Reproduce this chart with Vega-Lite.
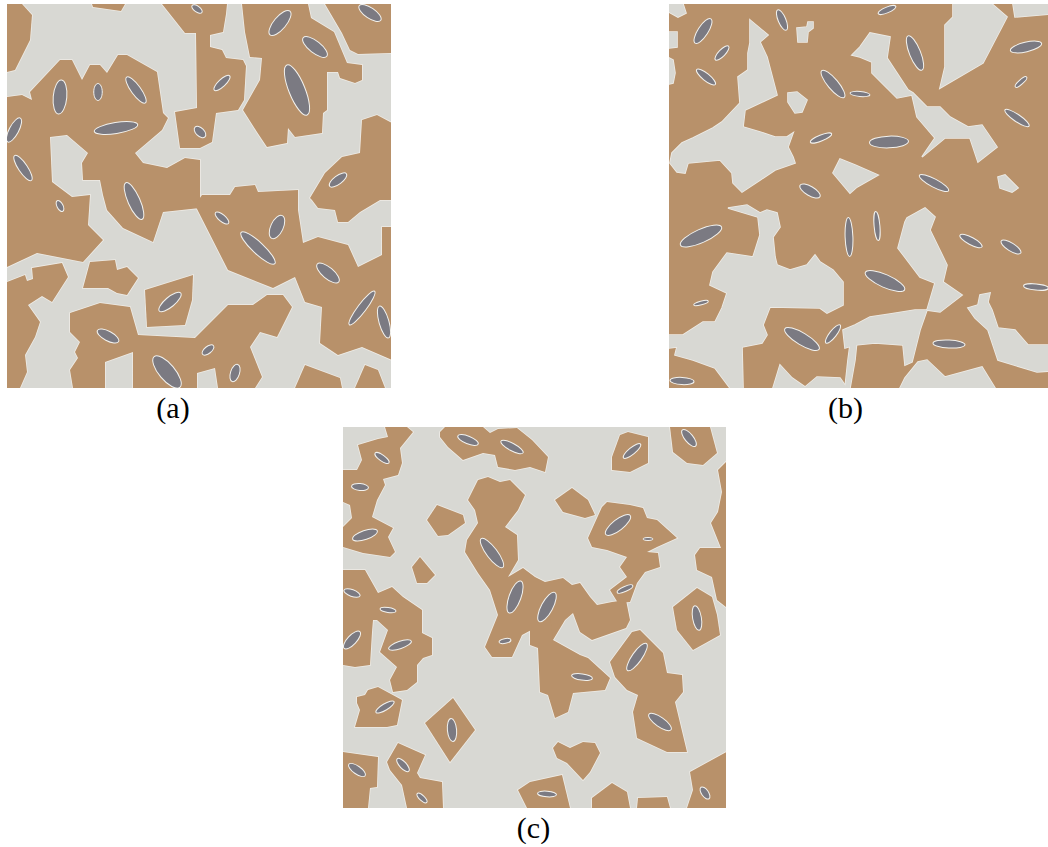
{
"$schema":"https://vega.github.io/schema/vega-lite/v6.json",
"background":"white",
"padding":{"left":7,"top":4,"right":0,"bottom":0},
"config":{"view":{"stroke":null,"fill":"#d8d8d3"},"title":{"font":"Times New Roman, Liberation Serif, serif","fontSize":30,"fontWeight":"normal","color":"#000000"}},
"datasets":{
"polys":[
{"p":"a","id":"a1","x":[7,22,32,30,15,7],"y":[4,4,15,40,70,72]},
{"p":"a","id":"a2","x":[92,125,121,93],"y":[4,4,11,7]},
{"p":"a","id":"a3","x":[162,227,226,223,210,210,222,226,243,246,244,238,216,212,200,180,175,197,196,185],"y":[4,4,14,32,35,47,50,58,60,66,100,110,113,142,148,148,112,108,33,33]},
{"p":"a","id":"a4","x":[242,308,311,334,347,362,362,355,340,338,327,327,323,322,295,288,287,267,257,243,260,262,250,245],"y":[4,4,18,32,63,65,80,83,78,72,72,110,113,133,137,128,143,147,132,110,80,58,57,32]},
{"p":"a","id":"a5","x":[325,392,392,358,350,342],"y":[4,4,53,54,50,33]},
{"p":"a","id":"a6","x":[7,22,32,30,60,72,82,90,100,107,118,127,157,163,168,162,135,143,167,185,200,200,163,153,123,107,103,100,83,82,88,67,50,52,72,90,88,103,83,37,7],"y":[97,95,100,92,60,60,80,65,65,73,55,55,72,113,118,130,153,163,168,158,160,208,212,242,228,210,195,180,180,163,153,135,137,182,197,195,225,240,262,253,267]},
{"p":"a","id":"a7","x":[310,325,342,360,362,377,392,392,380,360,348,338,335,318,312],"y":[198,173,157,153,120,115,123,200,200,212,222,222,210,208,200]},
{"p":"a","id":"a8","x":[7,25,27,33,32,62,68,52,42,28,40,35,25,27,20,7],"y":[282,275,281,279,268,263,277,302,296,305,322,337,355,372,388,388]},
{"p":"a","id":"a10","x":[90,115,117,127,138,127,117,108,83],"y":[262,260,270,267,278,295,293,288,288]},
{"p":"a","id":"a11","x":[145,193,192,185,147],"y":[290,275,300,325,327]},
{"p":"a","id":"a12","x":[70,100,130,138,195,228,253,267,283,292,277,260,250,262,255,218,215,197,197,133,133,105,105,73,70,78,75,80,70],"y":[313,303,307,335,338,305,305,295,295,307,337,332,347,377,388,388,368,373,388,388,352,362,388,388,370,358,352,342,332]},
{"p":"a","id":"a13","x":[202,230,235,255,258,298,298,303,318,348,358,382,382,392,392,362,338,320,322,305,295,273,228,195],"y":[195,195,187,185,192,190,210,243,237,245,267,255,227,227,360,347,355,343,307,302,277,288,270,205]},
{"p":"a","id":"a14","x":[295,305,340,342],"y":[388,365,378,388]},
{"p":"a","id":"a15","x":[355,365,378,385],"y":[388,365,370,388]},
{"p":"b","id":"b1","x":[669,683,686,678,669],"y":[4,4,13,17,12]},
{"p":"b","id":"b2","x":[669,677,677,669],"y":[32,32,47,48]},
{"p":"b","id":"b3","x":[669,673,675,673,669],"y":[58,60,73,83,84]},
{"p":"b","id":"b4","x":[750,768,760,767,777,745,743,760,775,787,793,788,793,795,775,760,742,733,732,720,688,685,677,670,672,682,693,713,722,740,738,748,748,750],"y":[20,35,42,57,95,110,127,132,137,137,133,147,157,163,170,180,192,183,173,160,163,173,172,163,153,143,138,128,122,103,77,70,53,43]},
{"p":"b","id":"b5","x":[797,807,808,813,813,808,807,798],"y":[28,27,22,22,28,32,42,42]},
{"p":"b","id":"b6","x":[788,797,807,802,795,788],"y":[93,92,100,112,113,102]},
{"p":"b","id":"b7","x":[852,860,870,890,887,908,913,927,940,950,968,982,997,978,970,945,922,935,917,912,897,872,872,860],"y":[55,47,33,37,58,90,93,107,107,117,127,125,147,162,138,138,157,138,117,95,98,73,62,57]},
{"p":"b","id":"b8","x":[840,855,878,857,850,833],"y":[159,165,175,187,193,173]},
{"p":"b","id":"b9","x":[1013,1062,1062,1015],"y":[4,4,13,17]},
{"p":"b","id":"b10","x":[953,992,1007,983,940,945,945,953],"y":[4,4,17,63,88,67,25,17]},
{"p":"b","id":"b13","x":[998,1005,1018,1012,1000],"y":[177,175,188,192,188]},
{"p":"b","id":"b14","x":[728,747,760,767,777,780,773,775,777,790,807,815,820,833,843,843,827,820,770,763,767,762,742,743,730,715,693,675,677,669,669,683,703,715,722,727,710,713,727,753,760,758],"y":[208,205,213,210,213,227,237,257,265,270,265,255,262,270,282,305,313,308,307,325,335,343,347,388,388,368,360,355,347,348,335,335,322,322,308,293,285,272,253,257,235,217]},
{"p":"b","id":"b15","x":[773,780,792,805,817,840,847],"y":[388,365,378,387,377,378,388]},
{"p":"b","id":"b20","x":[852,858,855,850,845,848],"y":[330,330,360,388,388,360]},
{"p":"b","id":"b16","x":[907,925,935,930,947,943,962,940,927,935,920,898,905],"y":[218,208,217,230,265,282,295,312,310,283,277,248,222]},
{"p":"b","id":"b17","x":[843,855,870,890,915,927,920,912,905,903,875,855,845],"y":[330,325,317,314,310,310,330,362,365,345,343,345,348]},
{"p":"b","id":"b18","x":[900,905,918,927,945,982,995],"y":[388,378,362,360,377,367,388]},
{"p":"b","id":"b19","x":[968,978,980,990,988,992,998,1015,1028,1062,1062,1037,998,988,975],"y":[308,305,295,293,302,310,328,330,345,345,370,372,360,330,318]},
{"p":"c","id":"c1","x":[385,407,413,400,402,398,383,385,377,372,393,388,395,390,363,343,343,352,350,343,343,357,362,358,378,388],"y":[427,427,432,448,463,475,479,485,500,517,528,537,552,557,553,547,527,518,505,502,470,470,460,445,439,437]},
{"p":"c","id":"c2","x":[440,445,483,490,498,517,532,548,545,530,515,498,495,483,463,448,440],"y":[432,427,427,433,429,428,440,457,472,467,470,467,455,453,460,447,437]},
{"p":"c","id":"c3","x":[427,437,463,465,448,438],"y":[520,505,515,523,535,536]},
{"p":"c","id":"c4","x":[412,420,435,427,417],"y":[567,557,575,583,583]},
{"p":"c","id":"c5","x":[468,478,488,500,510,525,518,505,517,518,508,523,535,545,563,572,580,590,597,612,626,630,626,592,580,573,565,553,540,535,522,512,492,485,498,490,478,465,467,478,475],"y":[500,480,477,482,480,495,510,527,535,560,577,568,577,582,578,585,583,597,605,602,600,620,628,640,632,613,620,640,630,628,635,657,657,647,615,590,573,552,540,523,510]},
{"p":"c","id":"c11","x":[530,550,553,580,588,610,605,573,568,555,548,540,538,530],"y":[615,615,640,655,658,678,690,693,712,718,695,692,648,645]},
{"p":"c","id":"c6","x":[612,620,628,648,648,630,612],"y":[457,435,432,437,463,472,470]},
{"p":"c","id":"c7","x":[670,710,717,703,687,673],"y":[427,427,453,465,463,452]},
{"p":"c","id":"c8","x":[730,718,722,718,711,721,700,695,697,712,717,730],"y":[458,470,492,512,523,548,548,555,570,577,600,610]},
{"p":"c","id":"c9","x":[673,697,712,717,720,693,677],"y":[607,588,597,615,635,650,630]},
{"p":"c","id":"c15","x":[588,602,607,630,643,647,657,677,657,647,658,660,645,637,630,618,610,627,620,627,607,592],"y":[538,507,502,505,508,518,520,538,547,552,553,567,572,583,602,603,590,577,567,557,550,547]},
{"p":"c","id":"c12","x":[610,632,640,663,667,682,683,675,687,667,637,633,638,627,615],"y":[662,632,630,653,673,675,692,702,752,752,738,712,695,690,677]},
{"p":"c","id":"c16","x":[343,365,378,392,403,422,422,432,432,423,417,417,407,393,390,397,380,388,377,373,372,370,355,343],"y":[570,570,593,587,597,610,633,638,655,658,665,682,690,692,680,667,652,630,620,620,632,665,667,665]},
{"p":"c","id":"c18","x":[357,365,368,378,402,397,387,355,360,357],"y":[697,695,690,687,700,725,727,727,710,703]},
{"p":"c","id":"c19","x":[425,453,475,450],"y":[723,698,730,762]},
{"p":"c","id":"c20","x":[343,378,377,370,368,343],"y":[752,757,787,788,808,808]},
{"p":"c","id":"c21","x":[387,398,425,417,420,442,443,407,402,390],"y":[762,743,755,773,778,782,808,808,785,770]},
{"p":"c","id":"c22","x":[518,530,562,570,527],"y":[790,782,775,808,808]},
{"p":"c","id":"c23","x":[553,558,570,583,595,600,590,583,567,557],"y":[748,742,748,742,743,753,772,780,763,758]},
{"p":"c","id":"c24","x":[592,612,627,630,592],"y":[798,783,792,808,808]},
{"p":"c","id":"c25","x":[638,667,670,637],"y":[798,797,808,808]},
{"p":"c","id":"c26","x":[690,730,730,687,693],"y":[772,750,808,808,790]},
{"p":"c","id":"c28","x":[555,572,588,595,585,563],"y":[500,488,500,515,518,512]}
],
"ells":[
{"p":"a","x":60,"y":97,"len":34,"ar":"e4","ang":95},
{"p":"a","x":98,"y":92,"len":17,"ar":"e5","ang":90},
{"p":"a","x":136,"y":90,"len":32,"ar":"e3","ang":54},
{"p":"a","x":116,"y":128,"len":44,"ar":"e25","ang":-9},
{"p":"a","x":14,"y":130,"len":27,"ar":"e35","ang":-62},
{"p":"a","x":23,"y":168,"len":30,"ar":"e3","ang":56},
{"p":"a","x":134,"y":201,"len":40,"ar":"e3","ang":66},
{"p":"a","x":60,"y":206,"len":12,"ar":"e5","ang":62},
{"p":"a","x":170,"y":302,"len":28,"ar":"e35","ang":-40},
{"p":"a","x":108,"y":336,"len":24,"ar":"e4","ang":28},
{"p":"a","x":167,"y":372,"len":40,"ar":"e4","ang":50},
{"p":"a","x":197,"y":9,"len":12,"ar":"e5","ang":35},
{"p":"a","x":280,"y":23,"len":31,"ar":"e4","ang":-50},
{"p":"a","x":315,"y":47,"len":30,"ar":"e4","ang":38},
{"p":"a","x":297,"y":90,"len":54,"ar":"e3","ang":68},
{"p":"a","x":222,"y":83,"len":21,"ar":"e35","ang":-43},
{"p":"a","x":200,"y":132,"len":14,"ar":"e6","ang":45},
{"p":"a","x":370,"y":13,"len":26,"ar":"e4","ang":34},
{"p":"a","x":338,"y":180,"len":21,"ar":"e4","ang":-37},
{"p":"a","x":222,"y":218,"len":17,"ar":"e4","ang":40},
{"p":"a","x":277,"y":227,"len":25,"ar":"e5","ang":-65},
{"p":"a","x":258,"y":248,"len":46,"ar":"e25","ang":43},
{"p":"a","x":328,"y":273,"len":28,"ar":"e4","ang":40},
{"p":"a","x":362,"y":308,"len":42,"ar":"e2","ang":-53},
{"p":"a","x":384,"y":322,"len":33,"ar":"e3","ang":74},
{"p":"a","x":208,"y":350,"len":14,"ar":"e5","ang":-38},
{"p":"a","x":235,"y":373,"len":18,"ar":"e5","ang":-72},
{"p":"b","x":703,"y":31,"len":29,"ar":"e35","ang":-57},
{"p":"b","x":722,"y":53,"len":19,"ar":"e35","ang":-46},
{"p":"b","x":706,"y":77,"len":24,"ar":"e3","ang":39},
{"p":"b","x":782,"y":20,"len":22,"ar":"e35","ang":67},
{"p":"b","x":833,"y":84,"len":35,"ar":"e3","ang":50},
{"p":"b","x":821,"y":138,"len":23,"ar":"e25","ang":-22},
{"p":"b","x":810,"y":191,"len":23,"ar":"e4","ang":30},
{"p":"b","x":860,"y":94,"len":20,"ar":"e25","ang":5},
{"p":"b","x":887,"y":10,"len":19,"ar":"e3","ang":-22},
{"p":"b","x":915,"y":53,"len":37,"ar":"e3","ang":68},
{"p":"b","x":1026,"y":47,"len":32,"ar":"e3","ang":-13},
{"p":"b","x":1021,"y":82,"len":15,"ar":"e3","ang":-42},
{"p":"b","x":1017,"y":118,"len":29,"ar":"e25","ang":34},
{"p":"b","x":889,"y":142,"len":39,"ar":"e3","ang":-2},
{"p":"b","x":934,"y":183,"len":33,"ar":"e25","ang":28},
{"p":"b","x":701,"y":236,"len":45,"ar":"e3","ang":-24},
{"p":"b","x":849,"y":237,"len":39,"ar":"e2","ang":88},
{"p":"b","x":701,"y":303,"len":15,"ar":"e25","ang":-15},
{"p":"b","x":802,"y":339,"len":40,"ar":"e3","ang":31},
{"p":"b","x":833,"y":334,"len":23,"ar":"e3","ang":-52},
{"p":"b","x":682,"y":381,"len":24,"ar":"e3","ang":3},
{"p":"b","x":877,"y":226,"len":29,"ar":"e2","ang":85},
{"p":"b","x":971,"y":241,"len":25,"ar":"e3","ang":28},
{"p":"b","x":1011,"y":247,"len":23,"ar":"e35","ang":32},
{"p":"b","x":885,"y":281,"len":43,"ar":"e3","ang":24},
{"p":"b","x":1036,"y":287,"len":25,"ar":"e25","ang":5},
{"p":"b","x":949,"y":344,"len":32,"ar":"e25","ang":3},
{"p":"c","x":382,"y":458,"len":17,"ar":"e35","ang":36},
{"p":"c","x":360,"y":487,"len":17,"ar":"e4","ang":5},
{"p":"c","x":365,"y":535,"len":26,"ar":"e35","ang":-19},
{"p":"c","x":468,"y":440,"len":22,"ar":"e35","ang":22},
{"p":"c","x":512,"y":447,"len":25,"ar":"e3","ang":28},
{"p":"c","x":492,"y":553,"len":36,"ar":"e3","ang":53},
{"p":"c","x":515,"y":597,"len":34,"ar":"e35","ang":-70},
{"p":"c","x":352,"y":593,"len":17,"ar":"e4","ang":20},
{"p":"c","x":388,"y":610,"len":16,"ar":"e3","ang":7},
{"p":"c","x":632,"y":451,"len":22,"ar":"e3","ang":-39},
{"p":"c","x":689,"y":438,"len":21,"ar":"e4","ang":51},
{"p":"c","x":618,"y":525,"len":31,"ar":"e35","ang":-38},
{"p":"c","x":648,"y":539,"len":10,"ar":"e3","ang":0},
{"p":"c","x":625,"y":589,"len":17,"ar":"e3","ang":-24},
{"p":"c","x":547,"y":607,"len":33,"ar":"e35","ang":-62},
{"p":"c","x":697,"y":618,"len":25,"ar":"e35","ang":80},
{"p":"c","x":352,"y":640,"len":23,"ar":"e4","ang":-47},
{"p":"c","x":400,"y":645,"len":24,"ar":"e3","ang":-19},
{"p":"c","x":385,"y":707,"len":21,"ar":"e3","ang":-31},
{"p":"c","x":452,"y":730,"len":23,"ar":"e4","ang":85},
{"p":"c","x":357,"y":770,"len":20,"ar":"e4","ang":35},
{"p":"c","x":403,"y":765,"len":17,"ar":"e4","ang":47},
{"p":"c","x":422,"y":798,"len":13,"ar":"e4","ang":42},
{"p":"c","x":505,"y":641,"len":12,"ar":"e4","ang":-12},
{"p":"c","x":637,"y":657,"len":33,"ar":"e3","ang":-55},
{"p":"c","x":582,"y":677,"len":21,"ar":"e3","ang":8},
{"p":"c","x":660,"y":722,"len":27,"ar":"e35","ang":35},
{"p":"c","x":705,"y":793,"len":14,"ar":"e5","ang":55},
{"p":"c","x":547,"y":794,"len":19,"ar":"e3","ang":5}
]
},
"vconcat":[
{"hconcat":[
{"width":384,"height":384,
"title":{"text":"(a)","orient":"bottom","anchor":"middle","dx":-26,"offset":6,"font":"Times New Roman, Liberation Serif, serif","fontSize":30,"fontWeight":"normal","color":"#000000"},
"layer":[
{"data":{"name":"polys"},"transform":[{"filter":"datum.p === 'a'"},{"flatten":["x","y"]}],
"mark":{"type":"line","filled":true,"fill":"#b8916a","stroke":"#efece6","strokeWidth":1.6,"interpolate":"linear-closed","clip":true},
"encoding":{"x":{"field":"x","type":"quantitative","scale":{"domain":[7,391],"nice":false,"zero":false},"axis":null},
"y":{"field":"y","type":"quantitative","scale":{"domain":[4,388],"nice":false,"zero":false,"reverse":true},"axis":null},
"detail":{"field":"id","type":"nominal"},"order":{"value":null}}},
{"data":{"name":"polys"},"transform":[{"filter":"datum.p === 'a'"},{"flatten":["x","y"]}],
"mark":{"type":"line","filled":true,"fill":"#b8916a","strokeWidth":0,"interpolate":"linear-closed","clip":true},
"encoding":{"x":{"field":"x","type":"quantitative","scale":{"domain":[7,391],"nice":false,"zero":false},"axis":null},
"y":{"field":"y","type":"quantitative","scale":{"domain":[4,388],"nice":false,"zero":false,"reverse":true},"axis":null},
"detail":{"field":"id","type":"nominal"},"order":{"value":null}}},
{"data":{"name":"ells"},"transform":[{"filter":"datum.p === 'a'"}],
"mark":{"type":"point","filled":true,"fill":"#7b7a82","stroke":"#f3f2ee","strokeWidth":1,"opacity":1,"clip":true},
"encoding":{"x":{"field":"x","type":"quantitative","scale":{"domain":[7,391],"nice":false,"zero":false},"axis":null},
"y":{"field":"y","type":"quantitative","scale":{"domain":[4,388],"nice":false,"zero":false,"reverse":true},"axis":null},
"size":{"field":"len","type":"quantitative","scale":{"type":"pow","exponent":2,"domain":[0,100],"range":[0,10000]},"legend":null},
"shape":{"field":"ar","type":"nominal","legend":null,"scale":{"domain":["e2","e25","e3","e35","e4","e5","e6"],"range":[
"M-1,0C-1,-0.11,-0.552,-0.2,0,-0.2C0.552,-0.2,1,-0.11,1,0C1,0.11,0.552,0.2,0,0.2C-0.552,0.2,-1,0.11,-1,0Z",
"M-1,0C-1,-0.138,-0.552,-0.25,0,-0.25C0.552,-0.25,1,-0.138,1,0C1,0.138,0.552,0.25,0,0.25C-0.552,0.25,-1,0.138,-1,0Z",
"M-1,0C-1,-0.166,-0.552,-0.3,0,-0.3C0.552,-0.3,1,-0.166,1,0C1,0.166,0.552,0.3,0,0.3C-0.552,0.3,-1,0.166,-1,0Z",
"M-1,0C-1,-0.193,-0.552,-0.35,0,-0.35C0.552,-0.35,1,-0.193,1,0C1,0.193,0.552,0.35,0,0.35C-0.552,0.35,-1,0.193,-1,0Z",
"M-1,0C-1,-0.221,-0.552,-0.4,0,-0.4C0.552,-0.4,1,-0.221,1,0C1,0.221,0.552,0.4,0,0.4C-0.552,0.4,-1,0.221,-1,0Z",
"M-1,0C-1,-0.276,-0.552,-0.5,0,-0.5C0.552,-0.5,1,-0.276,1,0C1,0.276,0.552,0.5,0,0.5C-0.552,0.5,-1,0.276,-1,0Z",
"M-1,0C-1,-0.331,-0.552,-0.6,0,-0.6C0.552,-0.6,1,-0.331,1,0C1,0.331,0.552,0.6,0,0.6C-0.552,0.6,-1,0.331,-1,0Z"]}},
"angle":{"field":"ang","type":"quantitative","scale":null}}}
]},
{"width":393,"height":384,
"view":{"fill":"#b8916a","stroke":null},
"title":{"text":"(b)","orient":"bottom","anchor":"middle","dx":-20,"offset":6,"font":"Times New Roman, Liberation Serif, serif","fontSize":30,"fontWeight":"normal","color":"#000000"},
"layer":[
{"data":{"name":"polys"},"transform":[{"filter":"datum.p === 'b'"},{"flatten":["x","y"]}],
"mark":{"type":"line","filled":true,"fill":"#d8d8d3","stroke":"#efece6","strokeWidth":1.6,"interpolate":"linear-closed","clip":true},
"encoding":{"x":{"field":"x","type":"quantitative","scale":{"domain":[669,1062],"nice":false,"zero":false},"axis":null},
"y":{"field":"y","type":"quantitative","scale":{"domain":[4,388],"nice":false,"zero":false,"reverse":true},"axis":null},
"detail":{"field":"id","type":"nominal"},"order":{"value":null}}},
{"data":{"name":"polys"},"transform":[{"filter":"datum.p === 'b'"},{"flatten":["x","y"]}],
"mark":{"type":"line","filled":true,"fill":"#d8d8d3","strokeWidth":0,"interpolate":"linear-closed","clip":true},
"encoding":{"x":{"field":"x","type":"quantitative","scale":{"domain":[669,1062],"nice":false,"zero":false},"axis":null},
"y":{"field":"y","type":"quantitative","scale":{"domain":[4,388],"nice":false,"zero":false,"reverse":true},"axis":null},
"detail":{"field":"id","type":"nominal"},"order":{"value":null}}},
{"data":{"name":"ells"},"transform":[{"filter":"datum.p === 'b'"}],
"mark":{"type":"point","filled":true,"fill":"#7b7a82","stroke":"#f3f2ee","strokeWidth":1,"opacity":1,"clip":true},
"encoding":{"x":{"field":"x","type":"quantitative","scale":{"domain":[669,1062],"nice":false,"zero":false},"axis":null},
"y":{"field":"y","type":"quantitative","scale":{"domain":[4,388],"nice":false,"zero":false,"reverse":true},"axis":null},
"size":{"field":"len","type":"quantitative","scale":{"type":"pow","exponent":2,"domain":[0,100],"range":[0,10000]},"legend":null},
"shape":{"field":"ar","type":"nominal","legend":null,"scale":{"domain":["e2","e25","e3","e35","e4","e5","e6"],"range":[
"M-1,0C-1,-0.11,-0.552,-0.2,0,-0.2C0.552,-0.2,1,-0.11,1,0C1,0.11,0.552,0.2,0,0.2C-0.552,0.2,-1,0.11,-1,0Z",
"M-1,0C-1,-0.138,-0.552,-0.25,0,-0.25C0.552,-0.25,1,-0.138,1,0C1,0.138,0.552,0.25,0,0.25C-0.552,0.25,-1,0.138,-1,0Z",
"M-1,0C-1,-0.166,-0.552,-0.3,0,-0.3C0.552,-0.3,1,-0.166,1,0C1,0.166,0.552,0.3,0,0.3C-0.552,0.3,-1,0.166,-1,0Z",
"M-1,0C-1,-0.193,-0.552,-0.35,0,-0.35C0.552,-0.35,1,-0.193,1,0C1,0.193,0.552,0.35,0,0.35C-0.552,0.35,-1,0.193,-1,0Z",
"M-1,0C-1,-0.221,-0.552,-0.4,0,-0.4C0.552,-0.4,1,-0.221,1,0C1,0.221,0.552,0.4,0,0.4C-0.552,0.4,-1,0.221,-1,0Z",
"M-1,0C-1,-0.276,-0.552,-0.5,0,-0.5C0.552,-0.5,1,-0.276,1,0C1,0.276,0.552,0.5,0,0.5C-0.552,0.5,-1,0.276,-1,0Z",
"M-1,0C-1,-0.331,-0.552,-0.6,0,-0.6C0.552,-0.6,1,-0.331,1,0C1,0.331,0.552,0.6,0,0.6C-0.552,0.6,-1,0.331,-1,0Z"]}},
"angle":{"field":"ang","type":"quantitative","scale":null}}}
]}
],"spacing":278},
{"width":383,"height":381,
"title":{"text":"(c)","orient":"bottom","anchor":"middle","dx":-1,"offset":6,"font":"Times New Roman, Liberation Serif, serif","fontSize":30,"fontWeight":"normal","color":"#000000"},
"layer":[
{"data":{"name":"polys"},"transform":[{"filter":"datum.p === 'c'"},{"flatten":["x","y"]}],
"mark":{"type":"line","filled":true,"fill":"#b8916a","stroke":"#efece6","strokeWidth":1.6,"interpolate":"linear-closed","clip":true},
"encoding":{"x":{"field":"x","type":"quantitative","scale":{"domain":[343,726],"nice":false,"zero":false},"axis":null},
"y":{"field":"y","type":"quantitative","scale":{"domain":[427,808],"nice":false,"zero":false,"reverse":true},"axis":null},
"detail":{"field":"id","type":"nominal"},"order":{"value":null}}},
{"data":{"name":"polys"},"transform":[{"filter":"datum.p === 'c'"},{"flatten":["x","y"]}],
"mark":{"type":"line","filled":true,"fill":"#b8916a","strokeWidth":0,"interpolate":"linear-closed","clip":true},
"encoding":{"x":{"field":"x","type":"quantitative","scale":{"domain":[343,726],"nice":false,"zero":false},"axis":null},
"y":{"field":"y","type":"quantitative","scale":{"domain":[427,808],"nice":false,"zero":false,"reverse":true},"axis":null},
"detail":{"field":"id","type":"nominal"},"order":{"value":null}}},
{"data":{"name":"ells"},"transform":[{"filter":"datum.p === 'c'"}],
"mark":{"type":"point","filled":true,"fill":"#7b7a82","stroke":"#f3f2ee","strokeWidth":1,"opacity":1,"clip":true},
"encoding":{"x":{"field":"x","type":"quantitative","scale":{"domain":[343,726],"nice":false,"zero":false},"axis":null},
"y":{"field":"y","type":"quantitative","scale":{"domain":[427,808],"nice":false,"zero":false,"reverse":true},"axis":null},
"size":{"field":"len","type":"quantitative","scale":{"type":"pow","exponent":2,"domain":[0,100],"range":[0,10000]},"legend":null},
"shape":{"field":"ar","type":"nominal","legend":null,"scale":{"domain":["e2","e25","e3","e35","e4","e5","e6"],"range":[
"M-1,0C-1,-0.11,-0.552,-0.2,0,-0.2C0.552,-0.2,1,-0.11,1,0C1,0.11,0.552,0.2,0,0.2C-0.552,0.2,-1,0.11,-1,0Z",
"M-1,0C-1,-0.138,-0.552,-0.25,0,-0.25C0.552,-0.25,1,-0.138,1,0C1,0.138,0.552,0.25,0,0.25C-0.552,0.25,-1,0.138,-1,0Z",
"M-1,0C-1,-0.166,-0.552,-0.3,0,-0.3C0.552,-0.3,1,-0.166,1,0C1,0.166,0.552,0.3,0,0.3C-0.552,0.3,-1,0.166,-1,0Z",
"M-1,0C-1,-0.193,-0.552,-0.35,0,-0.35C0.552,-0.35,1,-0.193,1,0C1,0.193,0.552,0.35,0,0.35C-0.552,0.35,-1,0.193,-1,0Z",
"M-1,0C-1,-0.221,-0.552,-0.4,0,-0.4C0.552,-0.4,1,-0.221,1,0C1,0.221,0.552,0.4,0,0.4C-0.552,0.4,-1,0.221,-1,0Z",
"M-1,0C-1,-0.276,-0.552,-0.5,0,-0.5C0.552,-0.5,1,-0.276,1,0C1,0.276,0.552,0.5,0,0.5C-0.552,0.5,-1,0.276,-1,0Z",
"M-1,0C-1,-0.331,-0.552,-0.6,0,-0.6C0.552,-0.6,1,-0.331,1,0C1,0.331,0.552,0.6,0,0.6C-0.552,0.6,-1,0.331,-1,0Z"]}},
"angle":{"field":"ang","type":"quantitative","scale":null}}}
]}
],
"spacing":3,
"center":true
}
